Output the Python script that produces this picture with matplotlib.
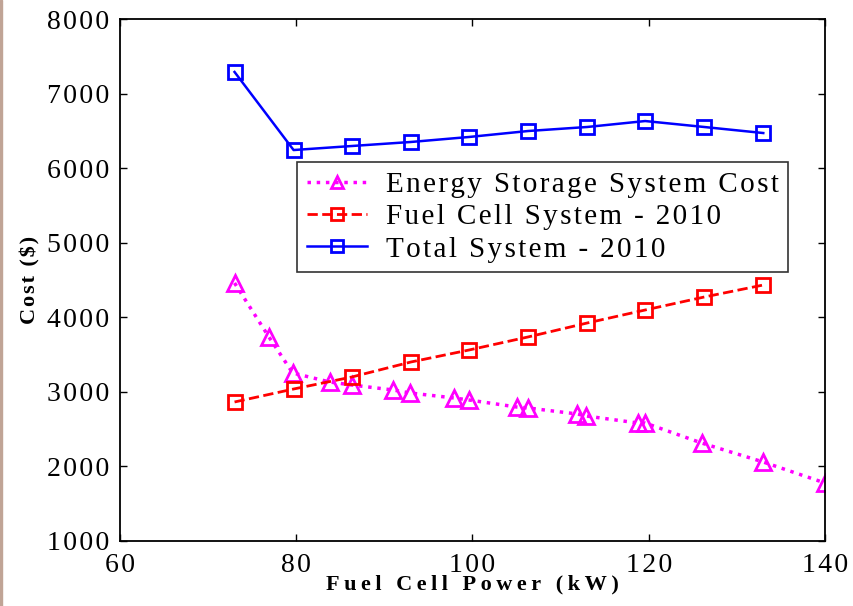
import matplotlib.pyplot as plt
from matplotlib.patches import Rectangle

# fuel cell power (kW) for the fuel cell / total system series
fc_power = [73.0, 79.7, 86.3, 93.0, 99.6, 106.3, 113.0, 119.6, 126.3, 133.0]
total_cost = [7290, 6243, 6297, 6351, 6418, 6498, 6552, 6632, 6552, 6471]
fuel_cell_cost = [2864, 3038, 3199, 3400, 3561, 3736, 3923, 4098, 4272, 4433]

# energy storage system
ess_power = [73.0, 76.9, 79.6, 83.8, 86.3, 91.0, 92.9, 97.9, 99.6, 105.0,
             106.3, 111.9, 112.9, 118.8, 119.6, 126.0, 133.0, 140.0]
ess_cost = [4460, 3736, 3253, 3132, 3092, 3025, 2985, 2918, 2891, 2797,
            2784, 2703, 2676, 2582, 2582, 2314, 2059, 1778]

labels = ["Energy Storage System Cost", "Fuel Cell System - 2010", "Total System - 2010"]
xticks = [60, 80, 100, 120, 140]
yticks = [1000, 2000, 3000, 4000, 5000, 6000, 7000, 8000]

HAIR = '\u200a'
THIN = '\u2009'


def spaced(s, sep=HAIR):
    # the original pdf export spreads the letters out
    return sep.join(s)


plt.rcParams['font.family'] = ['Liberation Serif', 'DejaVu Serif']

fig = plt.figure(figsize=(8.54, 6.06), dpi=100)
ax = fig.add_axes([0.1405, 0.1073, 0.8255, 0.8613])

ax.plot(ess_power, ess_cost, ':', color='#ff00ff', lw=2.5, marker='^',
        ms=11, mfc='none', mew=2, label=spaced(labels[0]))
ax.plot(fc_power, fuel_cell_cost, '--', color='#ff0000', lw=2, marker='s',
        ms=10, mfc='none', mew=2, label=spaced(labels[1]))
ax.plot(fc_power, total_cost, '-', color='#0000ff', lw=1.8, marker='s',
        ms=10, mfc='none', mew=2, label=spaced(labels[2]))

ax.set_xlim(60, 140)
ax.set_ylim(1000, 8000)
ax.set_xticks(xticks)
ax.set_xticklabels([spaced(str(t)) for t in xticks])
ax.set_yticks(yticks)
ax.set_yticklabels([spaced(str(t)) for t in yticks])
ax.tick_params(direction='in', length=5, width=1, top=True, right=True,
               labelsize=20)
ax.tick_params(axis='x', pad=9)
ax.tick_params(axis='y', pad=7.5)
for s in ax.spines.values():
    s.set_linewidth(1.3)

ax.set_xlabel(spaced("Fuel Cell Power (kW)", THIN), fontsize=16,
              fontweight='bold', labelpad=-3)
ax.set_ylabel(spaced("Cost ($)", HAIR), fontsize=16, fontweight='bold',
              labelpad=5)

leg = ax.legend(loc='upper left', bbox_to_anchor=(0.251, 0.726), fontsize=21,
                frameon=True, fancybox=False, edgecolor='black',
                handlelength=2.07, borderpad=0.33, labelspacing=0.2,
                handletextpad=0.65, borderaxespad=0, markerscale=0.85)
leg.get_frame().set_linewidth(1.2)

# scan edge on the left
fig.patches.append(Rectangle((0, 0), 2 / 854, 1, transform=fig.transFigure,
                             color='#c0a496', zorder=0))

fig.savefig('out.png', dpi=100)
